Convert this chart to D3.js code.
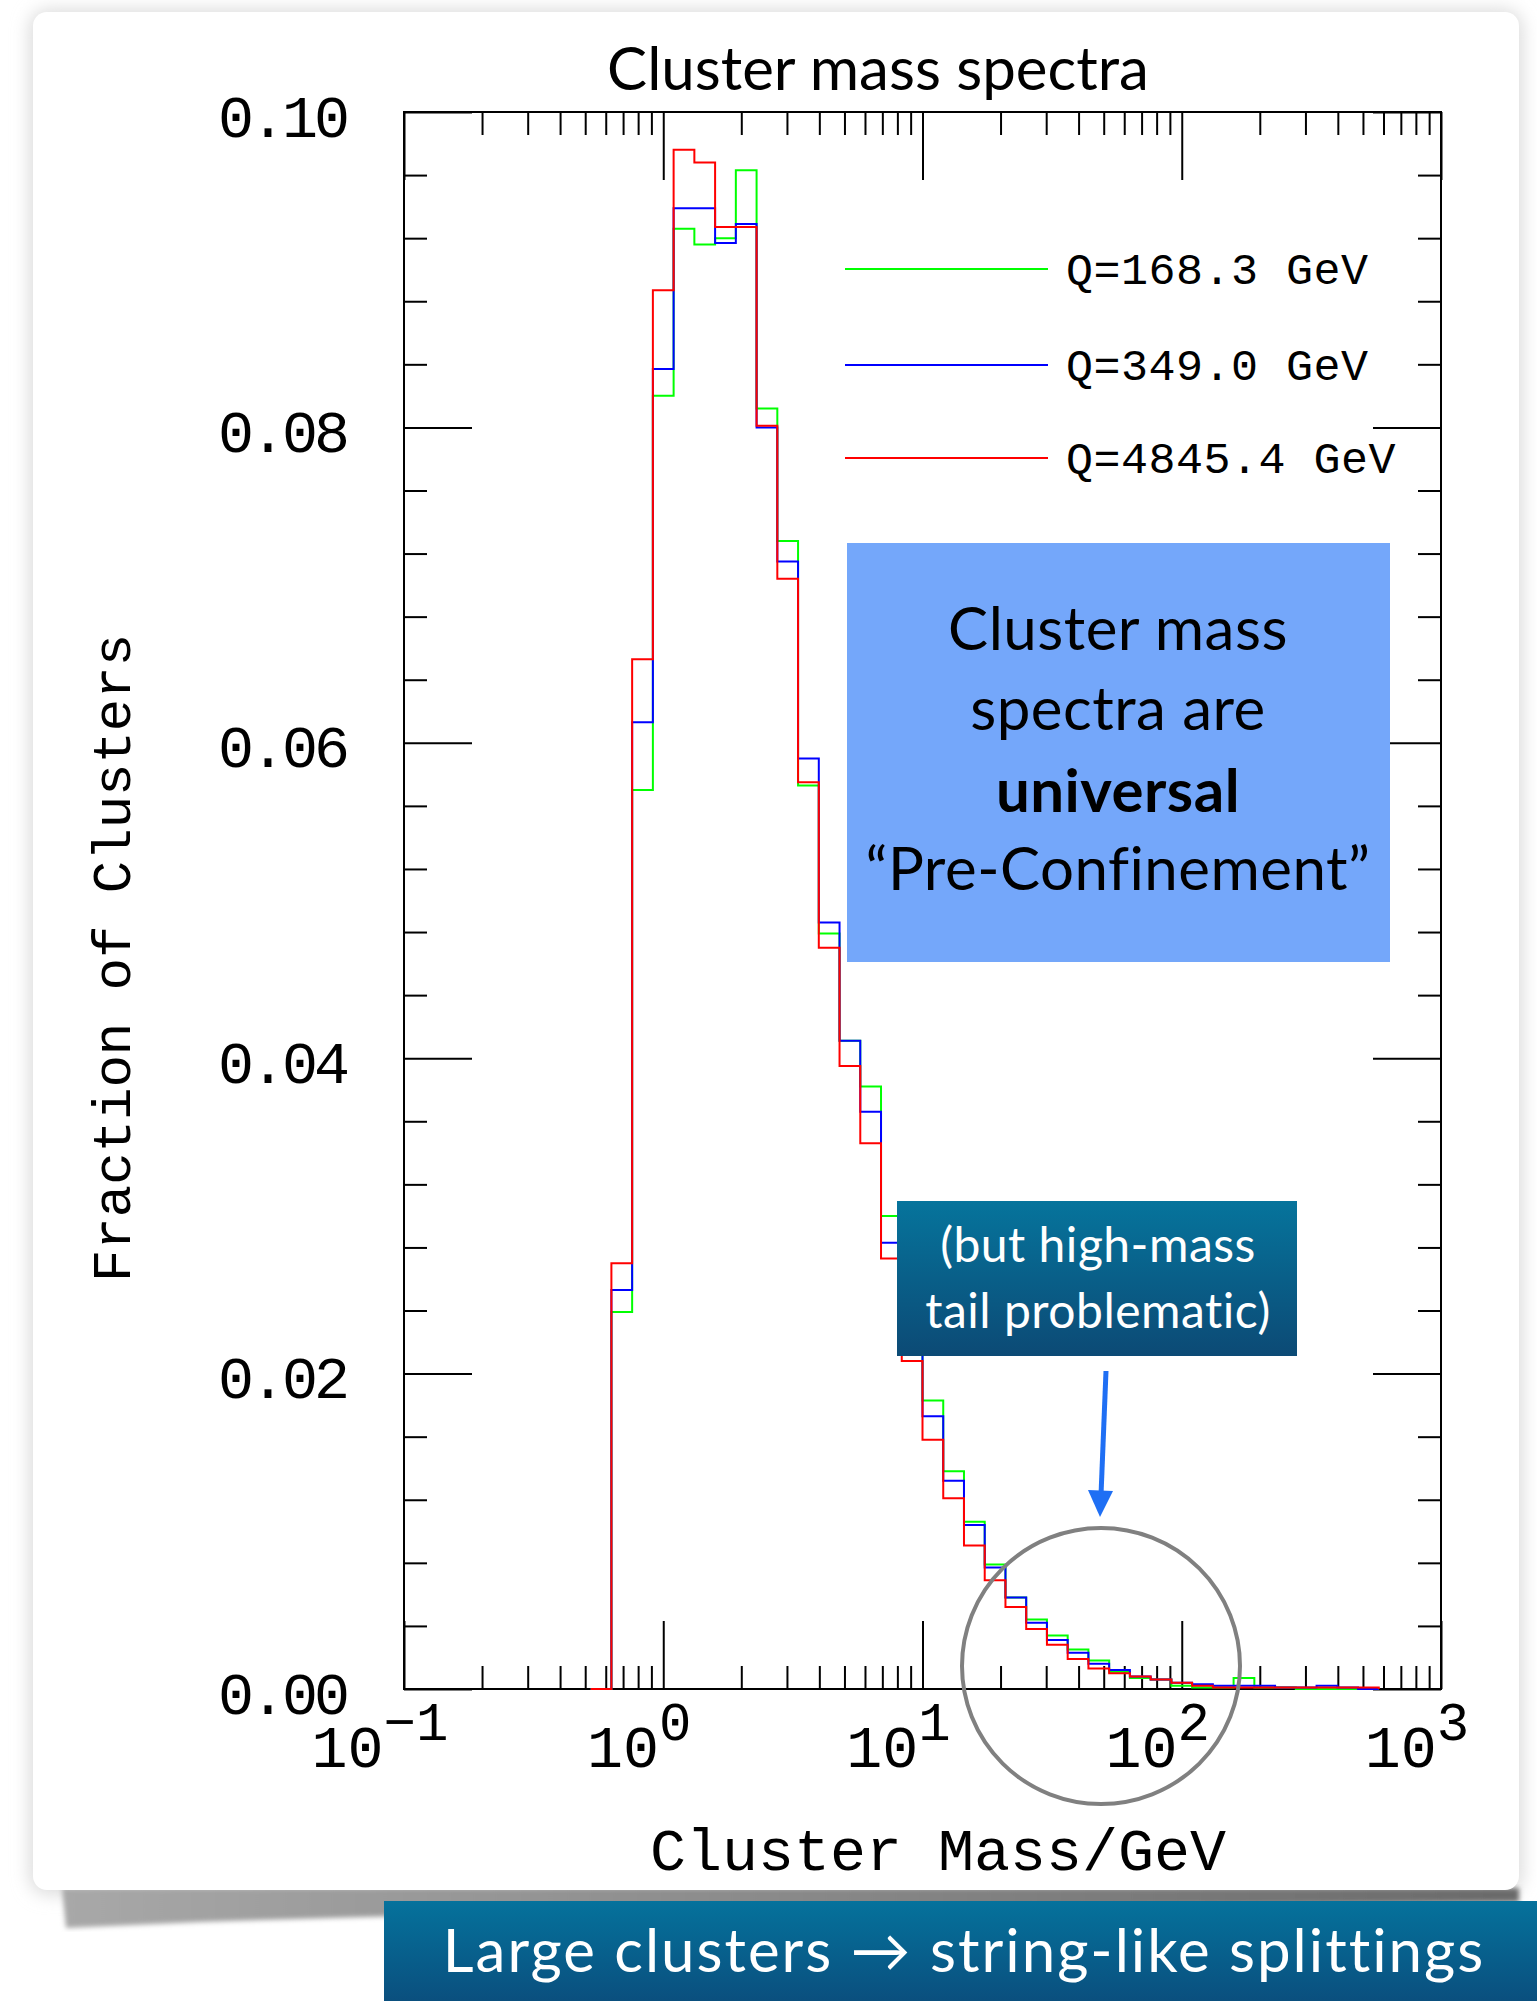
<!DOCTYPE html>
<meta charset="utf-8">
<html>
<head>
<style>
  body { margin: 0; background: #fff; }
  svg { display: block; }
  .mono { font-family: "Liberation Mono", monospace; }
  .sans { font-family: Lato, "Noto Sans", sans-serif; }
</style>
</head>
<script src="https://d3js.org/d3.v7.min.js"></script>
<body>
<div id="vis"></div>

<script>
  // bin edges, log10(mass / GeV)
  var binEdgesLog10 = [-0.28, -0.20, -0.12, -0.04, 0.04, 0.12, 0.20, 0.28, 0.36, 0.44,
    0.52, 0.60, 0.68, 0.76, 0.84, 0.92, 1.00, 1.08, 1.16, 1.24,
    1.32, 1.40, 1.48, 1.56, 1.64, 1.72, 1.80, 1.88, 1.96, 2.04,
    2.12, 2.20, 2.28, 2.36, 2.44, 2.52, 2.60, 2.68, 2.76];

  // fraction of clusters per bin
  var fracQ168 = [0, 0.0239, 0.0570, 0.0820, 0.0926, 0.0916, 0.0920, 0.0963, 0.0812, 0.0728,
    0.0573, 0.0479, 0.0411, 0.0382, 0.0300, 0.0218, 0.0183, 0.0138, 0.0106, 0.0079,
    0.0058, 0.0044, 0.0034, 0.0025, 0.0018, 0.0011, 0.0007, 0.0006, 0.0002, 0.0001,
    0.0001, 0.0007, 0.0001, 0.0001, 0, 0, 0, 0];
  var fracQ349 = [0, 0.0253, 0.0613, 0.0837, 0.0939, 0.0939, 0.0917, 0.0929, 0.0800, 0.0715,
    0.0590, 0.0486, 0.0411, 0.0366, 0.0283, 0.0214, 0.0173, 0.0132, 0.0104, 0.0077,
    0.0058, 0.0042, 0.0031, 0.0023, 0.0016, 0.0012, 0.0008, 0.0006, 0.0004, 0.0003,
    0.0002, 0.0002, 0.0002, 0.0001, 0.0001, 0.0002, 0.0001, 0];
  var fracQ4845 = [0, 0.0270, 0.0653, 0.0887, 0.0976, 0.0968, 0.0927, 0.0927, 0.0801, 0.0704,
    0.0575, 0.0470, 0.0395, 0.0346, 0.0273, 0.0208, 0.0158, 0.0121, 0.0091, 0.0069,
    0.0052, 0.0038, 0.0028, 0.0019, 0.0013, 0.0010, 0.0008, 0.0006, 0.0004, 0.0002,
    0.0001, 0.0001, 0.0001, 0.0001, 0.0001, 0.0001, 0.0001, 0.0001];

  var seriesNames = ["Q=168.3 GeV", "Q=349.0 GeV", "Q=4845.4 GeV"];
  var seriesColors = ["#00ff00", "#0000ff", "#ff0000"];
  var seriesValues = [fracQ168, fracQ349, fracQ4845];

  var decadeTicks = [0.1, 1, 10, 100, 1000];
  var decadeExponents = ["\u22121", "0", "1", "2", "3"];
  var yMajorTicks = [0, 0.02, 0.04, 0.06, 0.08, 0.10];

  var W = 1537, H = 2001;
  var plot = {left: 404, right: 1441, top: 112, bottom: 1689};

  var svg = d3.select("#vis").append("svg")
    .attr("width", W)
    .attr("height", H);

  var defs = svg.append("defs");
  defs.append("filter").attr("id", "soft")
    .attr("x", "-5%").attr("y", "-5%").attr("width", "110%").attr("height", "110%")
    .append("feGaussianBlur").attr("stdDeviation", 9);
  defs.append("filter").attr("id", "blur2")
    .append("feGaussianBlur").attr("stdDeviation", 2.5);

  function vgrad(id, c0, c1) {
    var g = defs.append("linearGradient").attr("id", id)
      .attr("x1", 0).attr("y1", 0).attr("x2", 0).attr("y2", 1);
    g.append("stop").attr("offset", "0%").attr("stop-color", c0);
    g.append("stop").attr("offset", "100%").attr("stop-color", c1);
  }
  vgrad("teal", "#06749c", "#0c4a75");
  vgrad("banner", "#05729c", "#0a4f7e");
  var sg = defs.append("linearGradient").attr("id", "shadowgrad");
  sg.append("stop").attr("offset", "0%").attr("stop-color", "#a8a8a8");
  sg.append("stop").attr("offset", "100%").attr("stop-color", "#6a6a6a");

  // paper card
  svg.append("rect")
    .attr("x", 30).attr("y", 10).attr("width", 1492).attr("height", 1884)
    .attr("rx", 18)
    .attr("fill", "#d9d9d9")
    .attr("filter", "url(#soft)");
  svg.append("path")
    .attr("d", "M62,1888 L1519,1888 L1519,1902 L900,1908 L400,1916 L200,1922 L66,1928 Z")
    .attr("fill", "url(#shadowgrad)")
    .attr("filter", "url(#blur2)");
  svg.append("rect")
    .attr("x", 33).attr("y", 12).attr("width", 1486).attr("height", 1878)
    .attr("rx", 14)
    .attr("fill", "#fff");

  var x = d3.scaleLog().domain([0.1, 1000]).range([plot.left, plot.right]);
  var y = d3.scaleLinear().domain([0, 0.1]).range([plot.bottom, plot.top]);

  var minorX = [];
  decadeTicks.slice(0, 4).forEach(function(d) {
    for (var m = 2; m <= 9; m++) minorX.push(d * m);
  });
  var minorY = d3.range(0, 0.1001, 0.004).filter(function(v) {
    return Math.abs(v / 0.02 - Math.round(v / 0.02)) > 1e-6;
  });

  function styleAxis(g) {
    g.select(".domain").remove();
    g.selectAll("line").attr("stroke", "#000").attr("stroke-width", 2);
  }

  var axes = svg.append("g");
  axes.append("g").attr("transform", "translate(0," + plot.bottom + ")")
    .call(d3.axisBottom(x).tickValues(decadeTicks).tickSize(-68).tickFormat("")).call(styleAxis);
  axes.append("g").attr("transform", "translate(0," + plot.bottom + ")")
    .call(d3.axisBottom(x).tickValues(minorX).tickSize(-23).tickFormat("")).call(styleAxis);
  axes.append("g").attr("transform", "translate(0," + plot.top + ")")
    .call(d3.axisTop(x).tickValues(decadeTicks).tickSize(-68).tickFormat("")).call(styleAxis);
  axes.append("g").attr("transform", "translate(0," + plot.top + ")")
    .call(d3.axisTop(x).tickValues(minorX).tickSize(-23).tickFormat("")).call(styleAxis);

  axes.append("g").attr("transform", "translate(" + plot.left + ",0)")
    .call(d3.axisLeft(y).tickValues(yMajorTicks).tickSize(-68).tickPadding(58).tickFormat(d3.format(".2f")))
    .call(styleAxis)
    .call(function(g) {
      g.selectAll("text")
        .attr("class", "mono")
        .attr("dy", 24)
        .attr("fill", "#000")
        .style("font-size", "60px")
        .style("letter-spacing", "-4px");
    });
  axes.append("g").attr("transform", "translate(" + plot.left + ",0)")
    .call(d3.axisLeft(y).tickValues(minorY).tickSize(-23).tickFormat("")).call(styleAxis);
  axes.append("g").attr("transform", "translate(" + plot.right + ",0)")
    .call(d3.axisRight(y).tickValues(yMajorTicks).tickSize(-68).tickFormat("")).call(styleAxis);
  axes.append("g").attr("transform", "translate(" + plot.right + ",0)")
    .call(d3.axisRight(y).tickValues(minorY).tickSize(-23).tickFormat("")).call(styleAxis);

  svg.append("rect")
    .attr("x", plot.left).attr("y", plot.top)
    .attr("width", plot.right - plot.left).attr("height", plot.bottom - plot.top)
    .attr("fill", "none").attr("stroke", "#000").attr("stroke-width", 2);

  // decade labels 10^n
  var xl = svg.append("g").attr("class", "mono");
  decadeTicks.forEach(function(d, i) {
    var t = xl.append("text")
      .attr("x", x(d) - 24)
      .attr("y", 1767)
      .attr("text-anchor", "middle")
      .style("font-size", "60px");
    t.append("tspan").text("10");
    t.append("tspan").attr("dy", -27).style("font-size", "54px")
      .text(decadeExponents[i]);
  });

  // histograms
  var line = d3.line()
    .curve(d3.curveStepAfter)
    .x(function(d) { return x(d[0]); })
    .y(function(d) { return y(d[1]); });

  seriesValues.forEach(function(vals, s) {
    var pts = vals.map(function(v, i) { return [Math.pow(10, binEdgesLog10[i]), v]; });
    pts.push([Math.pow(10, binEdgesLog10[binEdgesLog10.length - 1]), 0]);
    svg.append("path")
      .datum(pts)
      .attr("d", line)
      .attr("fill", "none")
      .attr("stroke", seriesColors[s])
      .attr("stroke-width", 2);
  });

  // legend
  var legendY = [269, 365, 458];
  seriesNames.forEach(function(name, i) {
    svg.append("line")
      .attr("x1", 845).attr("x2", 1048)
      .attr("y1", legendY[i]).attr("y2", legendY[i])
      .attr("stroke", seriesColors[i]).attr("stroke-width", 2);
    svg.append("text")
      .attr("class", "mono")
      .attr("x", 1066).attr("y", legendY[i] + 15)
      .style("font-size", "45px")
      .style("letter-spacing", "0.5px")
      .text(name);
  });

  // titles
  svg.append("text").attr("class", "sans")
    .attr("x", 878).attr("y", 90)
    .attr("text-anchor", "middle")
    .style("font-size", "60px")
    .text("Cluster mass spectra");

  svg.append("text").attr("class", "mono")
    .attr("x", 938).attr("y", 1870)
    .attr("text-anchor", "middle")
    .style("font-size", "60px")
    .text("Cluster Mass/GeV");

  svg.append("text").attr("class", "mono")
    .attr("transform", "translate(130,958) rotate(-90)")
    .attr("text-anchor", "middle")
    .style("font-size", "54px")
    .text("Fraction of Clusters");

  // blue note
  svg.append("rect")
    .attr("x", 847).attr("y", 543).attr("width", 543).attr("height", 419)
    .attr("fill", "#74a7fa");
  var noteLines = [["Cluster mass", 650, "normal"], ["spectra are", 730, "normal"],
    ["universal", 812, "bold"], ["\u201cPre-Confinement\u201d", 890, "normal"]];
  noteLines.forEach(function(l) {
    svg.append("text").attr("class", "sans")
      .attr("x", 1118).attr("y", l[1])
      .attr("text-anchor", "middle")
      .style("font-size", "60px")
      .style("letter-spacing", "0.5px")
      .style("font-weight", l[2])
      .text(l[0]);
  });

  // teal note
  svg.append("rect")
    .attr("x", 897).attr("y", 1201).attr("width", 400).attr("height", 155)
    .attr("fill", "url(#teal)");
  [["(but high-mass", 1262], ["tail problematic)", 1328]].forEach(function(l) {
    svg.append("text").attr("class", "sans")
      .attr("x", 1098).attr("y", l[1])
      .attr("text-anchor", "middle")
      .attr("fill", "#fff")
      .style("font-size", "48px")
      .style("letter-spacing", "0.5px")
      .text(l[0]);
  });

  // arrow + circle
  svg.append("line")
    .attr("x1", 1106).attr("y1", 1371).attr("x2", 1101).attr("y2", 1495)
    .attr("stroke", "#1f6ff4").attr("stroke-width", 5);
  svg.append("path")
    .attr("d", "M1088,1490 L1113,1491 L1100,1517 Z")
    .attr("fill", "#1f6ff4");
  svg.append("ellipse")
    .attr("cx", 1101).attr("cy", 1666).attr("rx", 139).attr("ry", 138)
    .attr("fill", "none").attr("stroke", "#808080").attr("stroke-width", 4);

  // banner
  svg.append("rect")
    .attr("x", 384).attr("y", 1901).attr("width", W - 384).attr("height", H - 1901)
    .attr("fill", "url(#banner)");
  svg.append("text").attr("class", "sans")
    .attr("x", 964).attr("y", 1972)
    .attr("text-anchor", "middle")
    .attr("fill", "#fff")
    .style("font-size", "60px")
    .style("letter-spacing", "2px")
    .text("Large clusters \u2192 string-like splittings");
</script>
</body>
</html>
